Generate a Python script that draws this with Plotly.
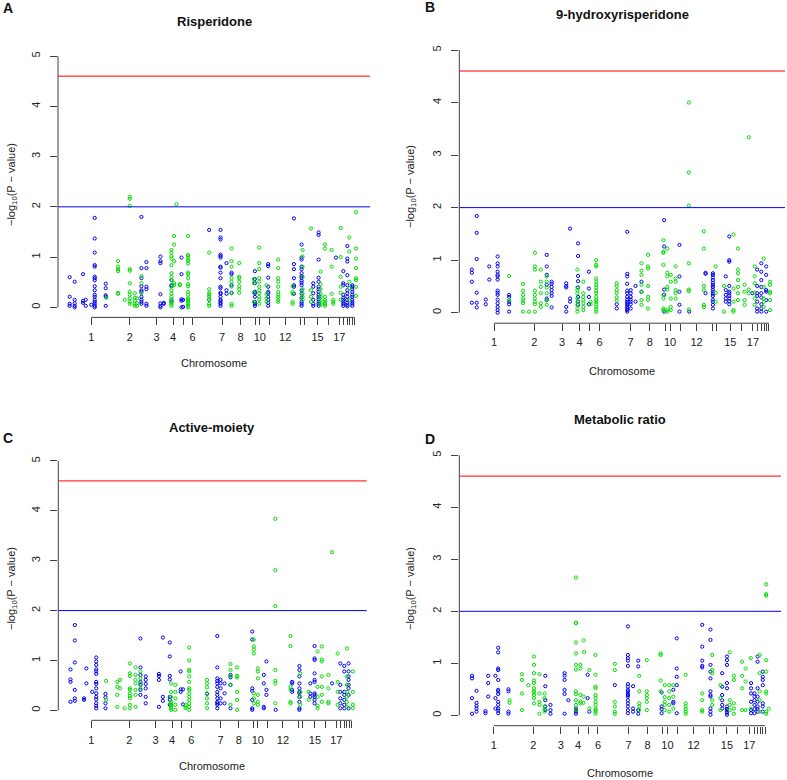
import plotly.graph_objects as go

W, H = 787, 780

# chromosome label positions on the shared genomic-position axis
chrom_tick_pos = [75, 190, 270, 320, 350, 378, 467, 522, 566, 580, 610, 656,
                  702, 714, 753, 785, 818, 832, 842, 850, 857, 864]
chrom_tick_text = ["1", "2", "3", "4", "", "6", "7", "8", "", "10", "", "12",
                   "", "", "15", "", "17", "", "", "", "", ""]

SUGGESTIVE = 2.0
SIGNIFICANT = 4.6

# ---------------- A: Risperidone ----------------
A_pos = [10, 25, 50, 58, 75, 85, 118, 120, 155, 175, 190, 205, 212, 225, 225, 240,
         282, 292, 315, 315, 323, 330, 340, 345, 350, 365, 428, 428, 462, 480, 495,
         495, 518, 565, 562, 578, 605, 600, 635, 682, 678, 705, 708, 733, 740, 756,
         762, 775, 795, 808, 800, 822, 830, 842, 848, 857, 868]
A_chr = [1, 1, 1, 1, 1, 1, 1, 2, 2, 2, 2, 2, 2, 2, 3, 3,
         3, 3, 4, 5, 4, 4, 4, 5, 5, 6, 6, 7, 7, 7, 7,
         8, 8, 9, 10, 10, 11, 10, 12, 13, 12, 13, 14, 14, 15, 15,
         16, 16, 16, 17, 16, 18, 17, 19, 20, 21, 22]
A_vals = [
    [0.60, 0.21, 0.07, 0.03],
    [0.51, 0.15, 0.08, 0.03, 0.0],
    [0.66, 0.13, 0.09],
    [0.15, 0.03],
    [0.05],
    [1.78, 1.37, 1.09, 0.84, 0.81, 0.61, 0.58, 0.54, 0.42, 0.34, 0.25, 0.21, 0.15, 0.11, 0.07, 0.03, 0.0],
    [0.47, 0.38, 0.24, 0.21, 0.03],
    [0.19],
    [0.92, 0.81, 0.76, 0.72, 0.29, 0.27],
    [0.15],
    [2.20, 2.16, 2.02, 0.76, 0.73, 0.48, 0.31, 0.25, 0.18, 0.11, 0.07],
    [0.28, 0.19, 0.13, 0.07, 0.03],
    [0.18, 0.08, 0.03],
    [0.62, 0.48, 0.28],
    [1.80, 0.78, 0.58, 0.42, 0.34, 0.31, 0.21, 0.15, 0.11, 0.07],
    [0.90, 0.78, 0.41, 0.36, 0.07, 0.03],
    [1.01, 0.92, 0.88, 0.26, 0.08, 0.03, 0.0],
    [0.09, 0.07],
    [1.14, 1.09, 1.02, 0.97, 0.84, 0.68, 0.61, 0.54, 0.42, 0.34, 0.28, 0.21, 0.15, 0.11, 0.07, 0.03],
    [0.54, 0.44, 0.42, 0.15, 0.11],
    [1.42, 1.25, 0.92, 0.48, 0.44],
    [2.05],
    [0.46, 0.44],
    [0.99, 0.66, 0.16, 0.13, 0.0],
    [0.15, 0.01],
    [1.42, 1.04, 1.01, 0.95, 0.92, 0.87, 0.69, 0.66, 0.58, 0.46, 0.42, 0.31, 0.25, 0.18, 0.15, 0.11, 0.07, 0.03, 0.0],
    [1.09, 0.36, 0.28, 0.25, 0.21, 0.15, 0.07, 0.03],
    [1.54, 0.15],
    [1.54, 1.39, 1.35, 1.05, 1.02, 0.99, 0.81, 0.79, 0.69, 0.58, 0.41, 0.38, 0.29, 0.27, 0.21, 0.15, 0.13, 0.09, 0.07, 0.03],
    [0.88, 0.34, 0.27],
    [0.69, 0.66, 0.44, 0.29],
    [1.17, 0.92, 0.81, 0.58, 0.51, 0.41, 0.28, 0.07, 0.03],
    [0.88, 0.61, 0.58, 0.51, 0.42, 0.36, 0.29],
    [0.72, 0.56, 0.48, 0.31, 0.28, 0.21, 0.11, 0.07, 0.03],
    [0.56, 0.48, 0.29, 0.11],
    [1.19, 0.88, 0.76, 0.58, 0.51, 0.41, 0.34, 0.28, 0.21, 0.15, 0.07],
    [0.86, 0.82, 0.59, 0.41, 0.31, 0.28, 0.21, 0.15, 0.09, 0.03],
    [0.44, 0.27, 0.18, 0.11],
    [0.95, 0.78, 0.58, 0.51, 0.41, 0.31, 0.25, 0.21, 0.15, 0.11],
    [1.77, 0.86, 0.76, 0.58, 0.44, 0.41, 0.27],
    [0.42, 0.31, 0.27, 0.11, 0.07],
    [1.25, 0.99, 0.95, 0.81, 0.76, 0.68, 0.62, 0.59, 0.53, 0.49, 0.44, 0.34, 0.27, 0.19, 0.11, 0.07, 0.03],
    [1.14, 1.01, 0.81, 0.61, 0.36, 0.28, 0.21, 0.15],
    [1.57, 0.34, 0.21, 0.11],
    [0.48, 0.41, 0.28, 0.15, 0.07, 0.03],
    [1.49, 1.44, 0.95, 0.59, 0.51, 0.41, 0.36, 0.31, 0.25, 0.21, 0.16, 0.11, 0.07, 0.03],
    [0.71, 0.46, 0.36, 0.27, 0.21, 0.15, 0.09, 0.05],
    [1.25, 1.17, 0.21, 0.15, 0.11, 0.07, 0.03],
    [1.14, 0.81, 0.27],
    [0.99],
    [0.15, 0.11, 0.07],
    [1.58, 1.00, 0.61, 0.41, 0.29, 0.15],
    [0.72, 0.48, 0.44, 0.25, 0.19, 0.15, 0.11, 0.07, 0.03],
    [1.22, 0.97, 0.91, 0.64, 0.44, 0.34, 0.28, 0.21, 0.15, 0.09, 0.05, 0.02],
    [1.39, 1.11, 0.51, 0.38, 0.15],
    [0.44, 0.41, 0.36, 0.31, 0.25, 0.21, 0.15, 0.11, 0.07, 0.03],
    [1.89, 1.17, 0.97, 0.78, 0.58, 0.54, 0.41, 0.23],
]

# ---------------- B: 9-hydroxyrisperidone ----------------
B_pos = [11, 25, 51, 61, 85, 118, 118, 158, 175, 192, 209, 226, 226, 240, 282, 293,
         314, 316, 331, 347, 352, 368, 427, 427, 457, 467, 481, 498, 498, 517,
         561, 563, 572, 582, 596, 607, 634, 635, 677, 682, 703, 711, 735, 740, 750,
         762, 775, 794, 806, 816, 823, 830, 842, 849, 856, 867]
B_chr = [1, 1, 1, 1, 1, 1, 2, 2, 2, 2, 2, 2, 3, 3, 3, 3,
         4, 5, 4, 5, 6, 6, 6, 7, 7, 7, 7, 8, 7, 8,
         10, 9, 10, 10, 10, 11, 12, 11, 12, 13, 13, 14, 14, 15, 15,
         16, 16, 16, 16, 17, 18, 19, 19, 20, 21, 22]
B_vals = [
    [0.82, 0.76, 0.59, 0.19],
    [1.84, 1.52, 1.02, 0.38, 0.19, 0.10],
    [0.25, 0.16],
    [0.88, 0.63],
    [1.07, 0.94, 0.88, 0.78, 0.72, 0.69, 0.63, 0.42, 0.38, 0.34, 0.25, 0.18, 0.11, 0.05, 0.0],
    [0.34, 0.30, 0.21, 0.16, 0.02],
    [0.70, 0.24],
    [0.55, 0.42, 0.34, 0.27, 0.23, 0.18, 0.02],
    [0.02],
    [1.14, 0.88, 0.82, 0.42, 0.34, 0.27, 0.21, 0.16, 0.02],
    [0.82, 0.59, 0.49, 0.37, 0.18, 0.11],
    [0.69, 0.59, 0.48, 0.37, 0.24, 0.15],
    [1.10, 0.88, 0.72, 0.53, 0.27, 0.24],
    [0.59, 0.55, 0.49, 0.43, 0.37, 0.32, 0.10],
    [0.56, 0.51, 0.48, 0.11, 0.02],
    [1.60, 0.27, 0.21],
    [0.82, 0.48, 0.43, 0.37, 0.27, 0.21, 0.15, 0.08, 0.02],
    [1.32, 1.08, 0.70, 0.60, 0.48, 0.30, 0.21, 0.15],
    [0.59, 0.37, 0.30, 0.24, 0.18, 0.11, 0.05],
    [0.78, 0.46, 0.30, 0.16],
    [0.21, 0.16],
    [1.00, 0.91, 0.88, 0.65, 0.59, 0.53, 0.48, 0.42, 0.37, 0.30, 0.24, 0.21, 0.16, 0.11, 0.06, 0.02],
    [0.56, 0.51, 0.43, 0.37, 0.29, 0.23],
    [0.16, 0.08],
    [1.54, 0.74, 0.69, 0.55, 0.42, 0.37, 0.30, 0.25, 0.21, 0.18, 0.15, 0.11, 0.08, 0.05, 0.02],
    [0.43, 0.37, 0.30, 0.25, 0.21, 0.16, 0.08],
    [0.51, 0.21],
    [0.94, 0.80, 0.72, 0.53, 0.40, 0.24, 0.15],
    [0.59, 0.40],
    [1.10, 0.88, 0.84, 0.51, 0.30, 0.24, 0.08],
    [1.38, 1.16, 1.14, 0.91, 0.34, 0.27, 0.08, 0.05],
    [1.76, 1.26, 0.44, 0.34, 0.02],
    [1.22, 0.76, 0.69, 0.49, 0.44, 0.05, 0.02],
    [0.72, 0.59, 0.27, 0.11, 0.05],
    [0.88, 0.65, 0.59, 0.43, 0.37, 0.27],
    [1.29, 0.69, 0.40, 0.15, 0.02],
    [4.00, 2.67, 2.04, 0.94, 0.44, 0.41, 0.06],
    [0.02],
    [1.55, 1.22, 0.51, 0.43, 0.15, 0.11],
    [0.76, 0.74, 0.37],
    [0.75, 0.72, 0.67, 0.62, 0.57, 0.53, 0.49, 0.44, 0.40, 0.36, 0.32, 0.25, 0.21, 0.15, 0.08],
    [0.88, 0.38, 0.21],
    [0.51, 0.02],
    [0.69, 0.43, 0.34, 0.27, 0.21],
    [1.45, 1.00, 0.97, 0.51, 0.40, 0.37, 0.32, 0.27, 0.22, 0.16],
    [1.49, 0.46, 0.21, 0.05, 0.02],
    [1.22, 0.82, 0.75, 0.62, 0.49, 0.37, 0.24],
    [0.53, 0.40, 0.24, 0.15],
    [3.34, 0.44, 0.37],
    [0.37],
    [0.88, 0.69, 0.56, 0.38, 0.27, 0.15],
    [0.82, 0.51, 0.37, 0.32, 0.21, 0.08, 0.02],
    [0.94, 0.78, 0.62, 0.49, 0.37, 0.29, 0.16, 0.08, 0.02],
    [1.03, 0.49, 0.27, 0.21, 0.11],
    [0.88, 0.72, 0.43, 0.40, 0.24, 0.02],
    [0.59, 0.53, 0.40, 0.37, 0.24, 0.05],
]

# ---------------- C: Active-moiety ----------------
C_pos = [12, 25, 53, 60, 78, 90, 118, 120, 154, 162, 176, 192, 209, 224, 224, 240,
         280, 292, 313, 317, 330, 346, 353, 361, 372, 426, 426, 457, 467, 479, 497,
         497, 517, 563, 568, 580, 598, 606, 633, 634, 679, 684, 706, 709, 734, 739,
         752, 761, 774, 794, 805, 805, 822, 830, 842, 850, 855, 868]
C_chr = [1, 1, 1, 1, 1, 1, 1, 2, 2, 2, 2, 2, 2, 3, 2, 3,
         3, 3, 5, 4, 4, 5, 5, 6, 6, 6, 7, 7, 7, 7, 7,
         8, 8, 9, 10, 10, 11, 11, 12, 11, 12, 13, 13, 14, 14, 15,
         15, 16, 16, 16, 17, 16, 18, 17, 19, 20, 21, 22]
C_vals = [
    [0.82, 0.62, 0.57, 0.17],
    [1.71, 1.40, 0.96, 0.41, 0.24, 0.19],
    [0.24, 0.21],
    [0.84, 0.54],
    [0.37],
    [1.06, 0.98, 0.91, 0.82, 0.78, 0.73, 0.57, 0.53, 0.44, 0.34, 0.27, 0.22, 0.14, 0.09, 0.04],
    [0.33, 0.26, 0.14, 0.04],
    [0.59, 0.21],
    [0.57, 0.47, 0.31, 0.07],
    [0.61, 0.44],
    [0.04],
    [0.94, 0.74, 0.69, 0.44, 0.41, 0.34, 0.29, 0.24, 0.11, 0.04],
    [0.86, 0.71, 0.61, 0.54, 0.41, 0.31, 0.07],
    [1.44, 0.86, 0.71, 0.57, 0.51, 0.41, 0.31],
    [0.78, 0.64, 0.54, 0.44],
    [0.68, 0.61, 0.53, 0.44, 0.27, 0.14],
    [0.73, 0.69, 0.61, 0.07],
    [1.46, 0.27, 0.19],
    [1.36, 1.08, 0.69, 0.62, 0.27, 0.21, 0.11],
    [0.54, 0.37, 0.27, 0.17, 0.14, 0.11, 0.07, 0.04, 0.01],
    [0.51, 0.37, 0.24, 0.11, 0.01],
    [0.78, 0.42, 0.37],
    [0.42, 0.12],
    [0.11, 0.07, 0.04],
    [1.26, 1.00, 0.81, 0.78, 0.68, 0.57, 0.44, 0.41, 0.34, 0.27, 0.21, 0.14, 0.07, 0.01],
    [0.61, 0.54, 0.46, 0.34, 0.24, 0.14, 0.04],
    [0.33],
    [1.49, 0.86, 0.64, 0.59, 0.54, 0.47, 0.37, 0.31, 0.24, 0.17, 0.14, 0.11, 0.04],
    [0.61, 0.54, 0.44, 0.24, 0.14],
    [0.54, 0.34, 0.14],
    [0.71, 0.66, 0.51, 0.04],
    [0.93, 0.81, 0.69, 0.51, 0.11],
    [0.86, 0.69, 0.66, 0.37, 0.21, 0.01],
    [1.58, 1.42, 0.44, 0.39, 0.21, 0.04, 0.01],
    [1.42, 1.28, 1.22, 1.14, 0.34, 0.24, 0.14],
    [0.84, 0.78, 0.64, 0.31, 0.17, 0.11],
    [0.71, 0.54, 0.07, 0.04],
    [0.98, 0.41, 0.31],
    [3.84, 2.81, 2.09, 0.81, 0.59, 0.54, 0.14],
    [0.01],
    [1.49, 1.29, 0.47, 0.41, 0.17, 0.14],
    [0.57, 0.54, 0.41, 0.37],
    [0.89, 0.81, 0.68, 0.54, 0.44, 0.37, 0.34, 0.27, 0.17, 0.04, 0.01],
    [0.74, 0.37, 0.27, 0.11],
    [0.37, 0.21],
    [0.54, 0.34, 0.27],
    [1.29, 1.04, 1.01, 0.74, 0.61, 0.57, 0.34, 0.31, 0.27, 0.21, 0.14],
    [1.18, 0.47, 0.27, 0.09, 0.04],
    [1.28, 1.02, 0.98, 0.68, 0.47, 0.31, 0.17],
    [0.71, 0.44, 0.17, 0.14],
    [0.54],
    [3.17],
    [1.14, 0.57, 0.37, 0.11],
    [0.94, 0.51, 0.37, 0.24, 0.14, 0.04],
    [0.89, 0.78, 0.37, 0.31, 0.21, 0.11, 0.04],
    [1.24, 0.68, 0.51, 0.37, 0.27, 0.17, 0.07],
    [0.94, 0.78, 0.68, 0.61, 0.51, 0.44, 0.31, 0.04],
    [0.78, 0.37, 0.11, 0.04],
]

# ---------------- D: Metabolic ratio ----------------
D_pos = [12, 25, 51, 59, 80, 88, 118, 121, 157, 176, 192, 208, 223, 225, 240, 281,
         292, 314, 314, 327, 336, 338, 348, 353, 353, 371, 427, 427, 465, 480, 495,
         498, 520, 560, 563, 572, 585, 597, 597, 607, 633, 681, 681, 705, 710, 734,
         739, 753, 761, 773, 797, 807, 822, 823, 833, 842, 848, 857, 867, 874]
D_chr = [1, 1, 1, 1, 1, 1, 1, 2, 2, 2, 2, 2, 2, 3, 3, 3,
         3, 4, 5, 4, 4, 4, 5, 6, 5, 6, 6, 7, 7, 7, 7,
         8, 8, 10, 9, 10, 10, 11, 10, 11, 12, 13, 12, 13, 14, 14,
         15, 15, 16, 16, 16, 16, 18, 17, 19, 19, 20, 21, 22, 22]
D_vals = [
    [0.76, 0.71, 0.33, 0.03],
    [0.47, 0.24, 0.18, 0.13, 0.07],
    [0.08, 0.04],
    [0.76, 0.62, 0.36],
    [0.76, 0.33, 0.13],
    [1.30, 1.21, 0.90, 0.87, 0.68, 0.49, 0.46, 0.41, 0.26, 0.20, 0.13, 0.09, 0.04],
    [0.50, 0.46, 0.07, 0.03],
    [0.29, 0.24],
    [0.79, 0.68, 0.42, 0.10],
    [0.58],
    [1.13, 0.97, 0.81, 0.67, 0.62, 0.52, 0.47, 0.44, 0.39, 0.33, 0.23],
    [0.79, 0.42, 0.26, 0.20, 0.03],
    [0.42, 0.33, 0.17, 0.12, 0.07],
    [0.76, 0.56, 0.29, 0.17, 0.10],
    [0.20, 0.10, 0.03],
    [0.81, 0.76, 0.68, 0.49, 0.41, 0.03],
    [0.29],
    [2.65, 1.78, 1.77, 1.40, 1.19, 0.97, 0.88, 0.46, 0.41, 0.29, 0.20, 0.10],
    [0.13, 0.10, 0.07, 0.03],
    [0.97, 0.90, 0.39, 0.26, 0.23],
    [1.44, 0.36, 0.24],
    [1.22],
    [0.78, 0.33],
    [0.87, 0.13],
    [0.07],
    [1.16, 0.78, 0.55, 0.52, 0.39, 0.33, 0.26, 0.20, 0.13, 0.10, 0.07, 0.03],
    [0.99, 0.87, 0.26, 0.17, 0.07, 0.03],
    [0.58],
    [1.71, 1.16, 1.10, 1.05, 0.95, 0.60, 0.55, 0.49, 0.46, 0.42, 0.39, 0.36, 0.29, 0.23, 0.17, 0.10, 0.04],
    [0.56, 0.13, 0.07],
    [1.05, 0.94, 0.10, 0.03],
    [0.76, 0.46, 0.23, 0.17, 0.10],
    [1.06, 0.46, 0.39, 0.33, 0.26, 0.10],
    [1.19, 1.16, 0.67, 0.46],
    [0.44, 0.17, 0.12, 0.04],
    [0.58, 0.35, 0.26, 0.20, 0.10],
    [0.58, 0.46, 0.33, 0.20, 0.07],
    [0.49, 0.26, 0.23],
    [0.58, 0.36, 0.13],
    [1.48, 0.90, 0.74, 0.58, 0.04],
    [0.78, 0.23, 0.17, 0.12, 0.07, 0.03],
    [1.74, 1.32, 1.05, 0.95, 0.92],
    [0.42, 0.29, 0.10, 0.07],
    [1.65, 1.45, 0.97, 0.84, 0.71, 0.46, 0.39, 0.36, 0.13, 0.07, 0.01],
    [1.16, 0.87, 0.81, 0.29, 0.20],
    [0.58, 0.33, 0.10],
    [0.81, 0.55, 0.39, 0.29, 0.20, 0.13],
    [1.13, 1.06, 0.97, 0.62, 0.52, 0.17, 0.12, 0.09, 0.05, 0.01],
    [1.21, 0.29, 0.20, 0.10],
    [0.76, 0.68, 0.23, 0.13, 0.03],
    [1.03, 0.76, 0.52, 0.10],
    [0.90, 0.65, 0.10],
    [1.10, 0.13],
    [0.62, 0.52, 0.42, 0.26, 0.10, 0.04],
    [0.42, 0.36, 0.29, 0.20, 0.12, 0.04],
    [1.13, 1.03, 0.52, 0.36, 0.26, 0.17, 0.12, 0.07],
    [1.16, 0.81, 0.46, 0.29, 0.07],
    [0.84, 0.74, 0.68, 0.58, 0.23, 0.17, 0.07],
    [2.52, 2.33, 2.30, 1.06, 0.84, 0.46, 0.42, 0.07, 0.03],
    [0.13],
]

# ---------------- layout helpers ----------------
ODD_COLOR = "#0000EE"
EVEN_COLOR = "#00DD00"
AXIS_COLOR = "#404040"
FONT = "Liberation Sans, Arial, sans-serif"

labeled_pos = [p for p, t in zip(chrom_tick_pos, chrom_tick_text) if t]
labeled_txt = [t for t in chrom_tick_text if t]
unlabeled_pos = [p for p, t in zip(chrom_tick_pos, chrom_tick_text) if not t]


def fx(px):
    return px / W


def fy(py):
    return 1 - py / H


panels = [
    dict(title="Risperidone", letter="A", pos=A_pos, chr=A_chr, vals=A_vals,
         box=(58, 370, 46, 317.4), title_xy=(214, 21), letter_xy=(8, 8),
         ylab_xy=(12, 185), xlab_xy=(214, 363)),
    dict(title="9-hydroxyrisperidone", letter="B", pos=B_pos, chr=B_chr, vals=B_vals,
         box=(459.3, 785, 39.5, 323.2), title_xy=(622, 14), letter_xy=(430, 7),
         ylab_xy=(411, 187), xlab_xy=(622, 371)),
    dict(title="Active-moiety", letter="C", pos=C_pos, chr=C_chr, vals=C_vals,
         box=(58.3, 366.7, 451, 720.3), title_xy=(212, 427), letter_xy=(8, 438),
         ylab_xy=(12, 589), xlab_xy=(212, 766)),
    dict(title="Metabolic ratio", letter="D", pos=D_pos, chr=D_chr, vals=D_vals,
         box=(459.3, 781, 444.9, 725.7), title_xy=(620, 419), letter_xy=(430, 439),
         ylab_xy=(411, 589), xlab_xy=(620, 773)),
]

fig = go.Figure()
annotations = []
shapes = []
layout_axes = {}

for i, p in enumerate(panels, start=1):
    sfx = "" if i == 1 else str(i)
    xa, ya = "x" + sfx, "y" + sfx
    for parity, color in ((1, ODD_COLOR), (0, EVEN_COLOR)):
        xs, ys = [], []
        for pos, ch, vals in zip(p["pos"], p["chr"], p["vals"]):
            if ch % 2 == parity:
                xs.extend([pos] * len(vals))
                ys.extend(vals)
        fig.add_trace(go.Scatter(
            x=xs, y=ys, mode="markers", xaxis=xa, yaxis=ya, showlegend=False,
            marker=dict(symbol="circle-open", size=3.2, color=color,
                        line=dict(width=1, color=color)),
            hoverinfo="skip"))

    x0, x1, ytop, ybot = p["box"]
    layout_axes["xaxis" + sfx] = dict(
        domain=[fx(x0), fx(x1)], anchor=ya, range=[-25, 910],
        showgrid=False, zeroline=False, showline=False,
        tickmode="array", tickvals=labeled_pos, ticktext=labeled_txt,
        ticks="outside", ticklen=7, tickwidth=1, tickcolor=AXIS_COLOR,
        minor=dict(tickmode="array", tickvals=unlabeled_pos, ticks="outside",
                   ticklen=7, tickwidth=1, tickcolor=AXIS_COLOR, showgrid=False),
        tickfont=dict(family=FONT, size=11, color="#222"),
        ticklabelstandoff=2, automargin=False, fixedrange=True)
    layout_axes["yaxis" + sfx] = dict(
        domain=[fy(ybot), fy(ytop)], anchor=xa, range=[-0.2, 5.2],
        showgrid=False, zeroline=False, showline=False,
        tickmode="array", tickvals=[0, 1, 2, 3, 4, 5],
        ticks="outside", ticklen=7, tickwidth=1, tickcolor=AXIS_COLOR,
        tickangle=-90, tickfont=dict(family=FONT, size=11, color="#222"),
        ticklabelstandoff=6, automargin=False, fixedrange=True)

    # R-style axis lines (spanning only the tick range)
    shapes.append(dict(type="line", xref=xa + " domain", yref=ya,
                       x0=0, x1=0, y0=0, y1=5,
                       line=dict(color=AXIS_COLOR, width=1)))
    shapes.append(dict(type="line", xref=xa, yref=ya + " domain",
                       x0=chrom_tick_pos[0], x1=chrom_tick_pos[-1], y0=0, y1=0,
                       line=dict(color=AXIS_COLOR, width=1)))
    # threshold lines
    shapes.append(dict(type="line", xref=xa + " domain", yref=ya,
                       x0=0, x1=1, y0=SIGNIFICANT, y1=SIGNIFICANT,
                       line=dict(color="#FF0000", width=1)))
    shapes.append(dict(type="line", xref=xa + " domain", yref=ya,
                       x0=0, x1=1, y0=SUGGESTIVE, y1=SUGGESTIVE,
                       line=dict(color="#0000FF", width=1)))

    tx, ty = p["title_xy"]
    annotations.append(dict(text="<b>" + p["title"] + "</b>", x=fx(tx), y=fy(ty),
                            xref="paper", yref="paper", showarrow=False,
                            xanchor="center", yanchor="middle",
                            font=dict(family=FONT, size=13, color="#111")))
    lx, ly = p["letter_xy"]
    annotations.append(dict(text="<b>" + p["letter"] + "</b>", x=fx(lx), y=fy(ly),
                            xref="paper", yref="paper", showarrow=False,
                            xanchor="center", yanchor="middle",
                            font=dict(family=FONT, size=14, color="#111")))
    yx, yy = p["ylab_xy"]
    annotations.append(dict(text="\u2212log<sub>10</sub>(P \u2212 value)", x=fx(yx), y=fy(yy),
                            xref="paper", yref="paper", showarrow=False,
                            textangle=-90, xanchor="center", yanchor="middle",
                            font=dict(family=FONT, size=11, color="#222")))
    xx, xy = p["xlab_xy"]
    annotations.append(dict(text="Chromosome", x=fx(xx), y=fy(xy),
                            xref="paper", yref="paper", showarrow=False,
                            xanchor="center", yanchor="middle",
                            font=dict(family=FONT, size=11, color="#222")))

fig.update_layout(
    width=W, height=H, autosize=False,
    margin=dict(l=0, r=0, t=0, b=0),
    paper_bgcolor="white", plot_bgcolor="white",
    showlegend=False, annotations=annotations, shapes=shapes,
    **layout_axes)

fig.write_html("out.html", config={"displayModeBar": False, "staticPlot": True},
               post_script="document.body.style.margin='0';document.body.style.overflow='hidden';")
